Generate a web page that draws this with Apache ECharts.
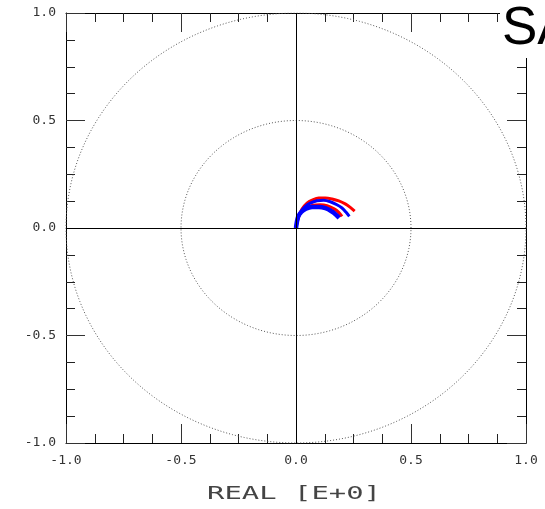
<!DOCTYPE html>
<html>
<head>
<meta charset="utf-8">
<script src="https://cdn.jsdelivr.net/npm/echarts@6/dist/echarts.min.js"></script>
<style>
html,body{margin:0;padding:0;background:#fff;}
#chart{width:545px;height:509px;}
</style>
</head>
<body>
<div id="chart"></div>
<script>
// ---- data (real, imaginary) ----
var redOuter = [[0,0],[0.003,0.015],[0.012,0.054],[0.026,0.088],[0.048,0.116],[0.070,0.130],[0.099,0.140],[0.128,0.140],[0.157,0.135],[0.186,0.126],[0.214,0.112],[0.236,0.096],[0.255,0.079]];
var redInner = [[0,0],[0.004,0.031],[0.019,0.070],[0.041,0.093],[0.070,0.105],[0.106,0.108],[0.135,0.104],[0.164,0.090],[0.186,0.073],[0.200,0.054]];
var blueOuter = [[0,0],[0.009,0.047],[0.023,0.078],[0.041,0.101],[0.062,0.116],[0.091,0.127],[0.120,0.129],[0.149,0.122],[0.178,0.108],[0.200,0.093],[0.217,0.074],[0.232,0.054]];
var blueInner = [[0,0],[0.009,0.051],[0.023,0.074],[0.043,0.090],[0.070,0.098],[0.099,0.098],[0.128,0.092],[0.154,0.078],[0.174,0.062],[0.188,0.047]];
var circleRadii = [0.5, 1.0];
var tickLabels = [-1.0, -0.5, 0.0, 0.5, 1.0];
var titleText = 'SA';
var axisName = 'REAL [E+0]';

// reference circles (grid geometry, not data)
function circlePoints(r){
  var pts = [];
  for (var i = 0; i <= 360; i++) {
    var a = i * Math.PI / 180;
    pts.push([r * Math.cos(a), r * Math.sin(a)]);
  }
  return pts;
}

var monoFont = 'DejaVu Sans Mono';
function fmt(v){ return tickLabels.indexOf(v) >= 0 ? v.toFixed(1) : ''; }

function makeAxis(pos, showLabel, margin){
  return {
    type: 'value', min: -1, max: 1, interval: 0.5, position: pos,
    axisLine: { show: true, onZero: false, lineStyle: { color: '#000', width: 1 } },
    axisTick: { show: true, inside: true, length: 19, lineStyle: { color: '#333', width: 1 } },
    minorTick: { show: true, splitNumber: 4, length: 9, lineStyle: { color: '#222', width: 1 } },
    axisLabel: { show: showLabel, formatter: fmt, margin: margin, fontFamily: monoFont, fontSize: 13, color: '#333' },
    splitLine: { show: false },
    minorSplitLine: { show: false }
  };
}

var series = [];
circleRadii.forEach(function(r, i){
  var s = {
    type: 'line', data: circlePoints(r), showSymbol: false, silent: true,
    lineStyle: { color: '#555', width: 1, type: [1, 2] }, z: 1
  };
  if (i === 0) {
    s.markLine = {
      silent: true, symbol: ['none', 'none'], label: { show: false },
      lineStyle: { color: '#000', width: 1, type: 'solid' },
      data: [{ xAxis: 0 }, { yAxis: 0 }]
    };
  }
  series.push(s);
});
[[redOuter, '#ff0000', 3], [redInner, '#ff0000', 3], [blueOuter, '#0000ff', 3], [blueInner, '#0000ff', 4.5]].forEach(function(d){
  series.push({
    type: 'line', data: d[0], smooth: 0.3, showSymbol: false,
    lineStyle: { color: d[1], width: d[2] }, z: 3
  });
});

var chart = echarts.init(document.getElementById('chart'), null, { renderer: 'canvas' });
chart.setOption({
  animation: false,
  backgroundColor: '#fff',
  title: {
    text: titleText, left: 500, top: 0, padding: [3, 0, 2, 2],
    backgroundColor: '#fff',
    textStyle: { fontFamily: 'Liberation Sans', fontSize: 53, fontWeight: 'normal', color: '#000' }
  },
  grid: { left: 66, right: 19, top: 13, bottom: 66, containLabel: false },
  xAxis: [makeAxis('bottom', true, 11), makeAxis('top', false, 11)],
  yAxis: [makeAxis('left', true, 10), makeAxis('right', false, 10)],
  graphic: [{
    type: 'text', x: 294, y: 495, scaleX: 1.7, silent: true,
    style: { text: axisName, fontFamily: monoFont, fontSize: 17, fill: '#444', align: 'center', verticalAlign: 'middle' }
  }],
  series: series
});
</script>
</body>
</html>
